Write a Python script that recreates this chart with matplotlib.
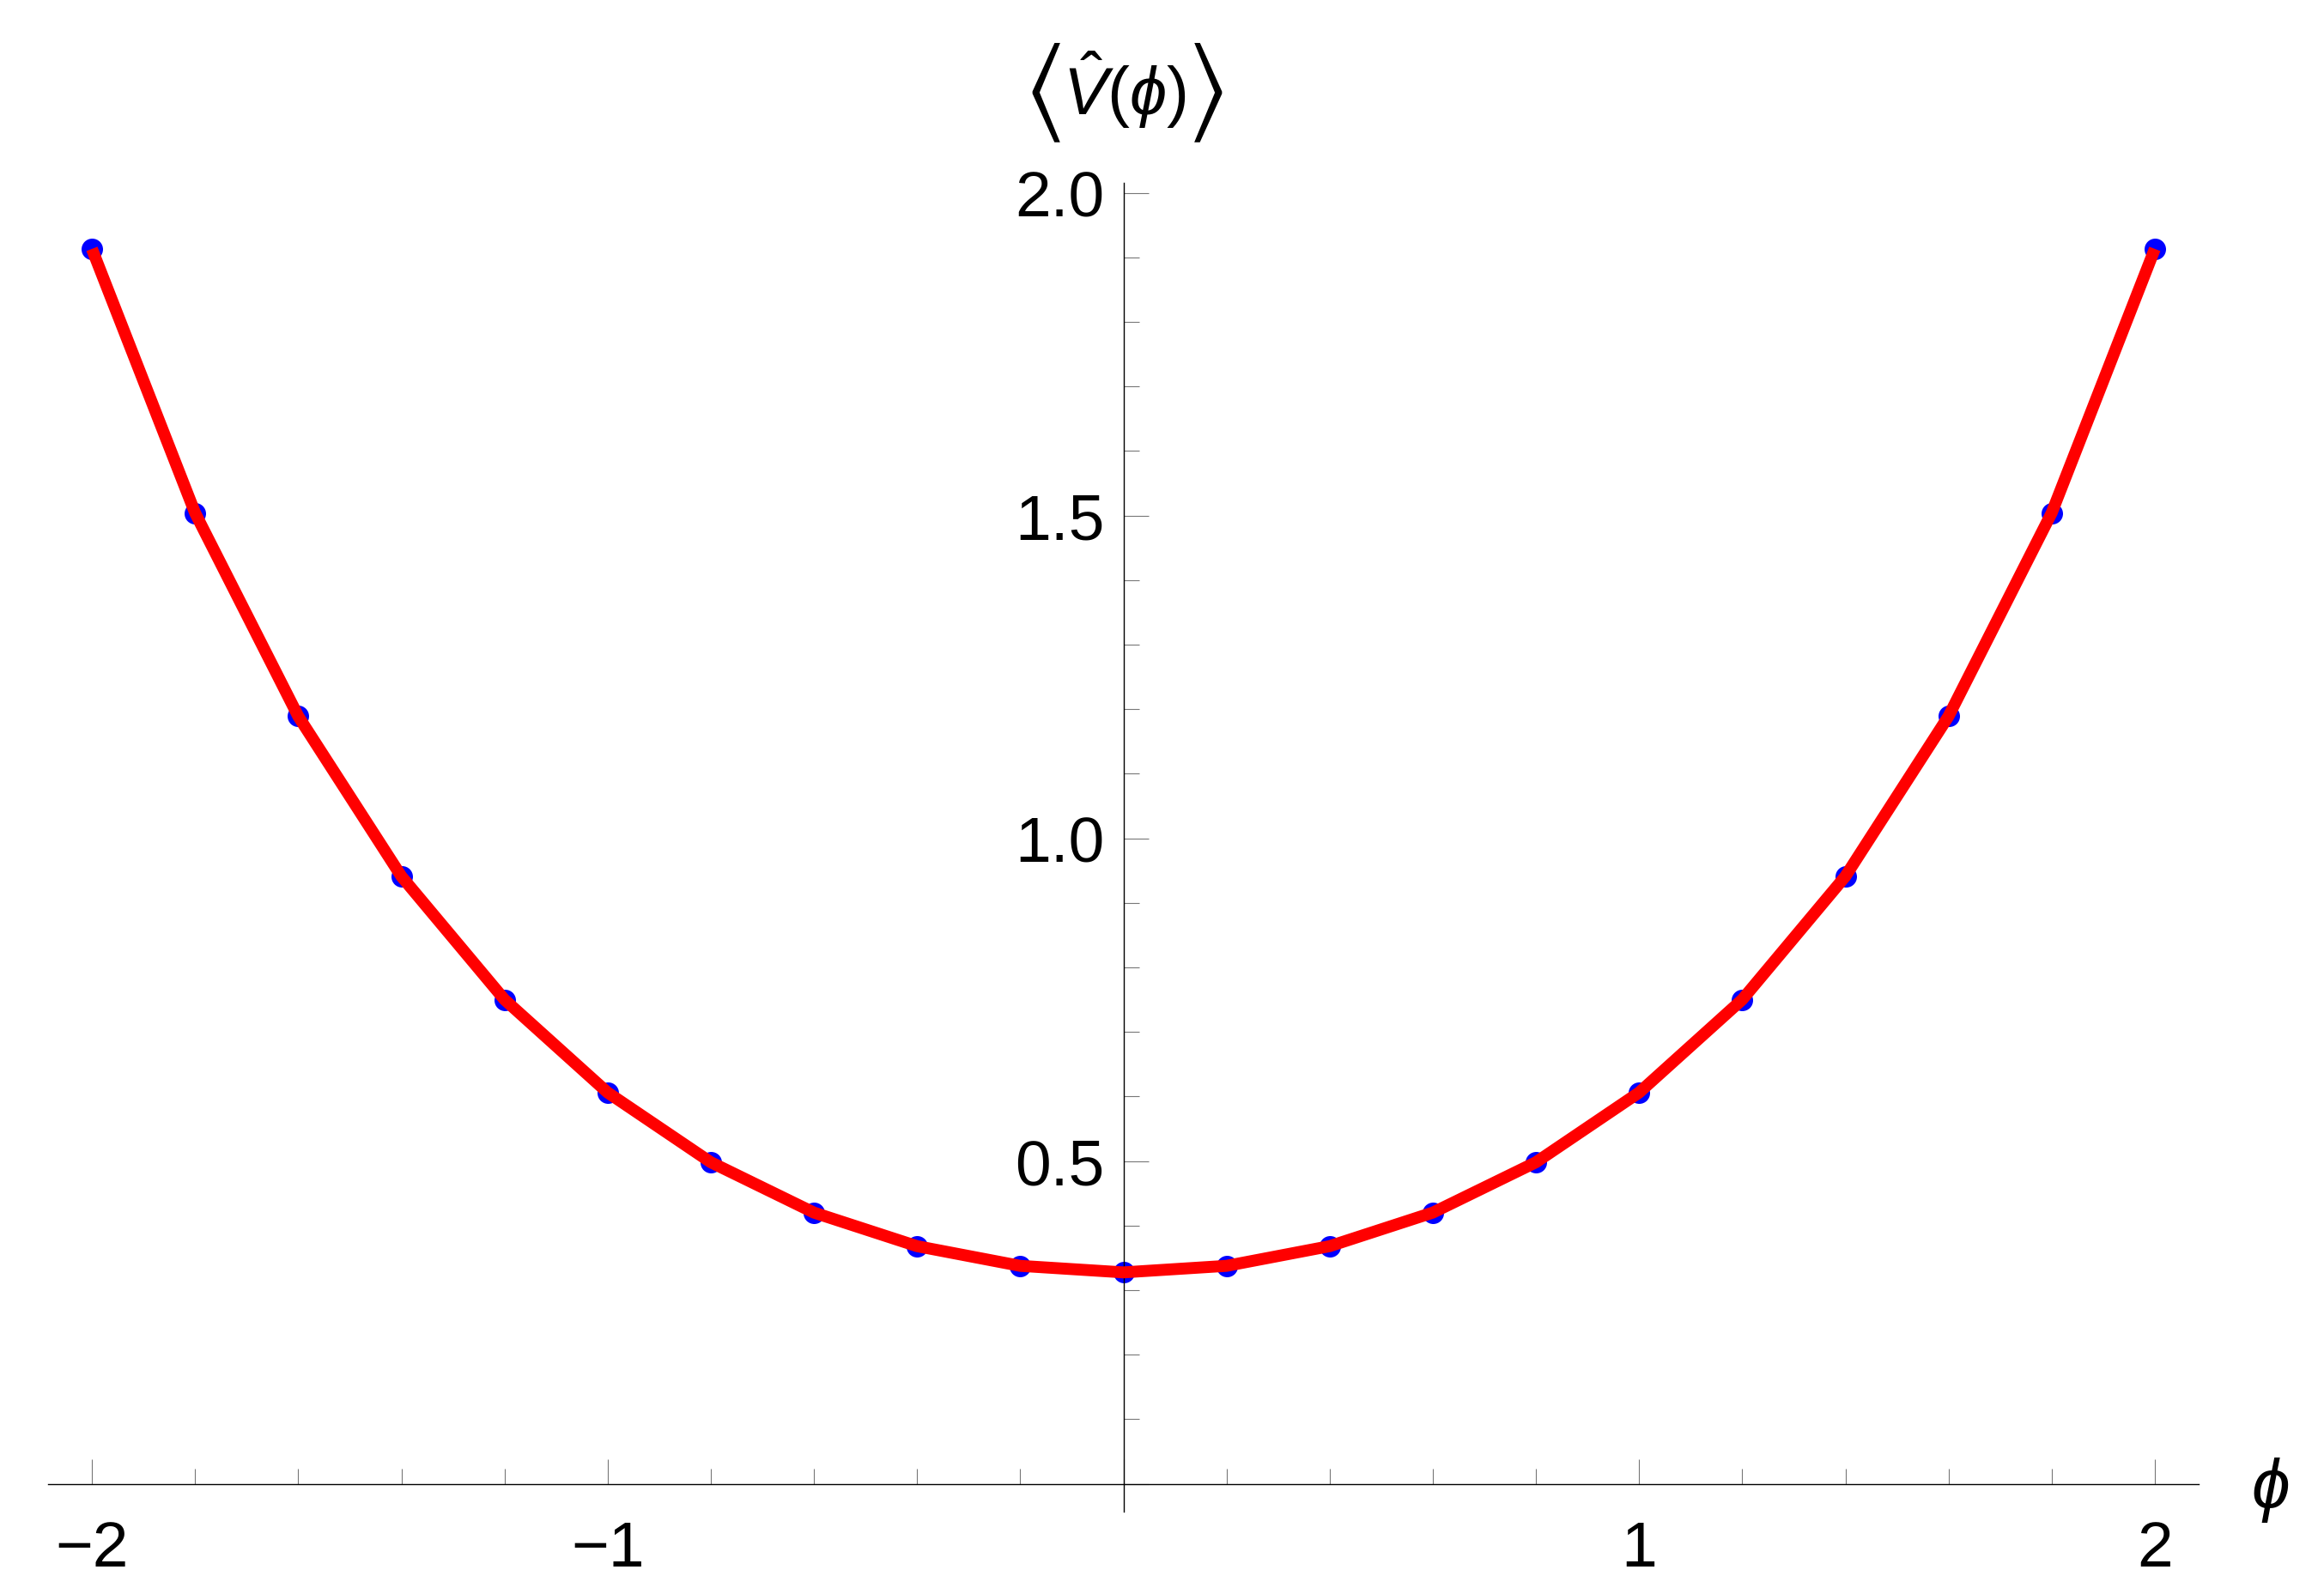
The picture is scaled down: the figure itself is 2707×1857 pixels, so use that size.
import matplotlib
matplotlib.use("Agg")
import matplotlib.pyplot as plt
from matplotlib.ticker import FixedLocator

# sample points
phi = [-2.0, -1.8, -1.6, -1.4, -1.2, -1.0, -0.8, -0.6, -0.4, -0.2, 0.0,
       0.2, 0.4, 0.6, 0.8, 1.0, 1.2, 1.4, 1.6, 1.8, 2.0]
v_mean = [1.913, 1.504, 1.189, 0.941, 0.750, 0.606, 0.498, 0.420, 0.368, 0.3375, 0.3274,
          0.3375, 0.368, 0.420, 0.498, 0.606, 0.750, 0.941, 1.189, 1.504, 1.913]

x_major = [-2, -1, 0, 1, 2]
x_major_labels = ["\u22122", "\u22121", "", "1", "2"]
x_minor = [-1.8, -1.6, -1.4, -1.2, -0.8, -0.6, -0.4, -0.2,
           0.2, 0.4, 0.6, 0.8, 1.2, 1.4, 1.6, 1.8]
y_major = [0.0, 0.5, 1.0, 1.5, 2.0]
y_major_labels = ["", "0.5", "1.0", "1.5", "2.0"]
y_minor = [0.1, 0.2, 0.3, 0.4, 0.6, 0.7, 0.8, 0.9, 1.1, 1.2, 1.3, 1.4, 1.6, 1.7, 1.8, 1.9]

plt.rcParams["font.family"] = ["Liberation Sans", "DejaVu Sans"]
plt.rcParams["mathtext.fontset"] = "custom"
plt.rcParams["mathtext.rm"] = "Liberation Sans"
plt.rcParams["mathtext.it"] = "Liberation Sans:italic"
plt.rcParams["mathtext.fallback"] = "stixsans"

fig = plt.figure(figsize=(27.07, 18.58), dpi=100)
ax = fig.add_axes([0.02069, 0.05167, 0.92538, 0.83315])

ax.plot(phi, v_mean, "o", color="blue", ms=18, mew=0, zorder=2, clip_on=False)
ax.plot(phi, v_mean, color="red", lw=10, solid_capstyle="butt",
        solid_joinstyle="round", zorder=3, clip_on=False)

ax.set_xlim(-2.085, 2.085)
ax.set_ylim(-0.0432, 2.0153)

for side in ["top", "right"]:
    ax.spines[side].set_visible(False)
ax.spines["left"].set_position(("data", 0))
ax.spines["bottom"].set_position(("data", 0))
for side in ["left", "bottom"]:
    ax.spines[side].set_linewidth(1.0)
    ax.spines[side].set_color("black")

ax.xaxis.set_major_locator(FixedLocator(x_major))
ax.xaxis.set_minor_locator(FixedLocator(x_minor))
ax.set_xticklabels(x_major_labels)
ax.yaxis.set_major_locator(FixedLocator(y_major))
ax.yaxis.set_minor_locator(FixedLocator(y_minor))
ax.set_yticklabels(y_major_labels)

ax.tick_params(which="both", direction="in", color="#777777", width=0.8,
               labelsize=54, labelcolor="black")
ax.tick_params(which="major", length=21)
ax.tick_params(which="minor", length=13)
ax.tick_params(axis="x", which="major", pad=30)
ax.tick_params(axis="y", which="major", pad=16)

# y label: <V^(phi)> with tall angle brackets
ax.annotate(r"$\hat{V}(\phi)$", xy=(0, 1),
            xycoords=("data", "axes fraction"), xytext=(1, 79),
            textcoords="offset points", ha="center", va="center", fontsize=56)
ax.annotate(r"$\langle$", xy=(0, 1), xycoords=("data", "axes fraction"),
            xytext=(-68, 76), textcoords="offset points", ha="center",
            va="center", fontsize=90, math_fontfamily="stixsans")
ax.annotate(r"$\rangle$", xy=(0, 1), xycoords=("data", "axes fraction"),
            xytext=(68, 76), textcoords="offset points", ha="center",
            va="center", fontsize=90, math_fontfamily="stixsans")

ax.annotate(r"$\phi$", xy=(1, 0), xycoords=("axes fraction", "data"),
            xytext=(60, -5), textcoords="offset points",
            ha="center", va="center", fontsize=58)

fig.savefig("out.png", dpi=100)
